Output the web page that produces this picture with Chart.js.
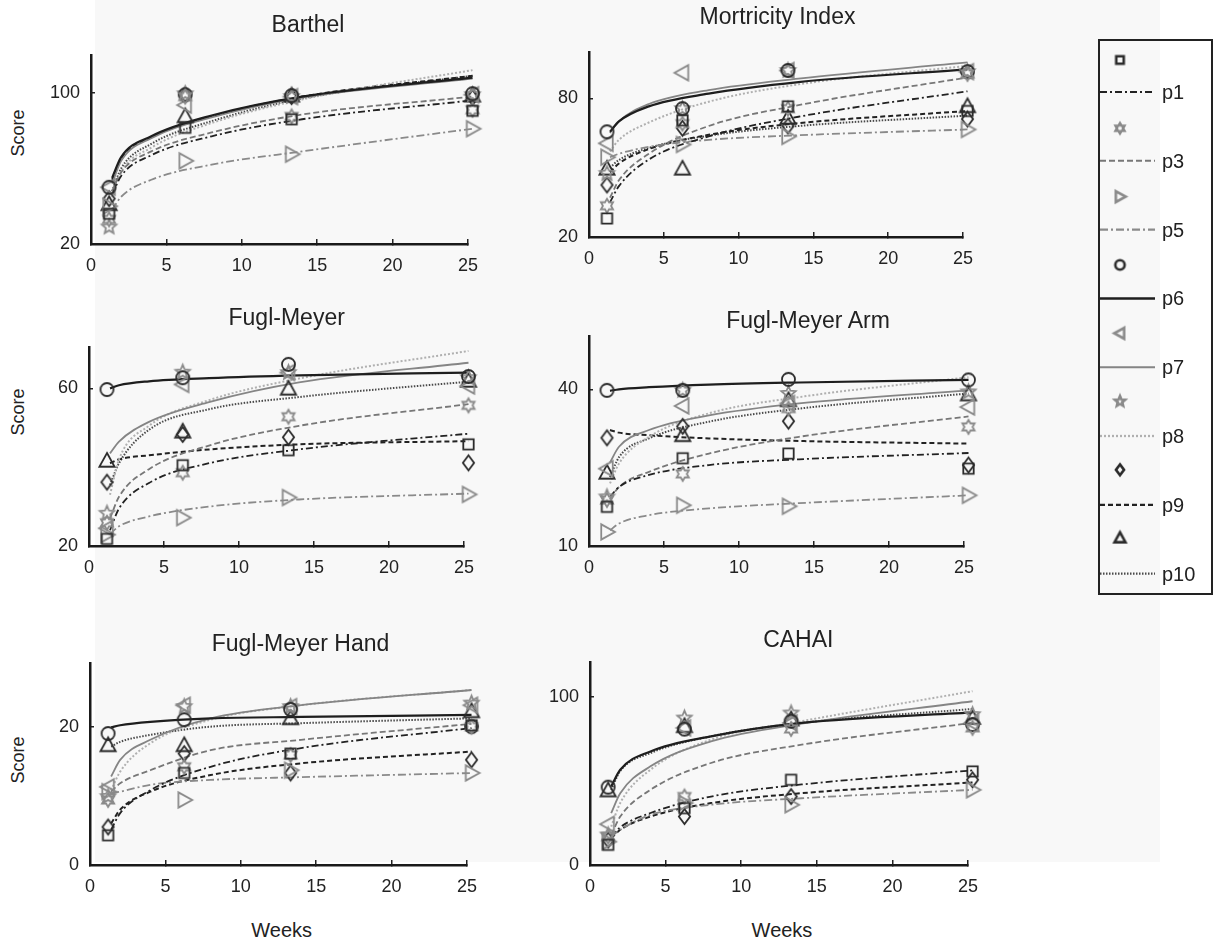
<!DOCTYPE html>
<html>
<head>
<meta charset="utf-8">
<script src="https://cdn.jsdelivr.net/npm/chart.js@4.4.1/dist/chart.umd.min.js"></script>
<style>
  html, body { margin: 0; padding: 0; background: #fff; }
  body { width: 1213px; height: 943px; position: relative; overflow: hidden;
         font-family: 'Liberation Sans', Arial, sans-serif; color: #222; }
  #shade { position: absolute; left: 95px; top: 0; width: 1065px; height: 862px; background: #f8f8f8; }
  canvas.panel { position: absolute; }
  .title { position: absolute; width: 400px; text-align: center; font-size: 23px; line-height: 23px; white-space: nowrap; }
  .weeks { position: absolute; width: 200px; text-align: center; font-size: 20px; line-height: 20px; }
  .score { position: absolute; width: 100px; height: 20px; text-align: center; font-size: 18px; line-height: 20px; transform: rotate(-90deg); }
  #legend { position: absolute; left: 1098px; top: 39px; width: 115px; height: 556px; border: 2px solid #222; box-sizing: border-box; }
  .lab { position: absolute; font-size: 20px; line-height: 20px; }
</style>
</head>
<body>
<div id="shade"></div>
<div id="legend"></div>
<script>
// ---- data ----
const patients = ['p1', 'p3', 'p5', 'p6', 'p7', 'p8', 'p9', 'p10'];
const markerWeeks = [1.2, 6.25, 13.3, 25.3];
const curveWeeks = [1.4, 2, 4, 8, 14, 25.3];
const xTicks = [0, 5, 10, 15, 20, 25];
const panelTitles = ['Barthel', 'Mortricity Index', 'Fugl-Meyer', 'Fugl-Meyer Arm', 'Fugl-Meyer Hand', 'CAHAI'];
const yTickLabels = [[20, 100], [20, 80], [20, 60], [10, 40], [0, 20], [0, 100]];
const yRanges = [[20, 120], [20, 100], [20, 70.5], [10, 50.2], [0, 29.2], [0, 121]];

// markers per patient (p1, p3, p5, p6, p7, p8, p9, p10) at markerWeeks
const barthelMarks = [
  [36, 81.5, 86, 90.5], [33, 98, 87.5, 91], [40, 64, 67.5, 81], [50, 99, 98.5, 99.5],
  [50, 93.5, 98, 99], [29, 99.5, 98, 99], [44, 99, 98, 97.5], [41, 87.5, 98.5, 98.5]
];
const barthelFits = [
  [46, 56, 67, 77, 86, 96], [48, 58, 69, 79, 88.5, 98], [38, 45, 54, 62, 69, 81], [55, 66, 77, 88, 98, 108],
  [52, 64, 76, 87, 97.5, 107.5], [45, 58, 71, 84, 96.5, 112], [54, 65, 76.5, 87.5, 98, 109], [48, 60, 73, 85, 97, 109]
];
const motricityMarks = [
  [28, 70.5, 76.5, 74.5], [33.5, 69, 75.5, 90.5], [54.5, 60, 63.5, 66.5], [65.5, 75.5, 92, 91.5],
  [60.5, 91, 92, 91.5], [47.5, 75.5, 92, 91.5], [42.5, 67, 68, 71], [49.5, 49.5, 71.5, 76.5]
];
const motricityFits = [
  [35, 42, 53.5, 63.5, 72, 83], [37, 44.5, 56, 68, 77, 89], [54.5, 56, 59, 62, 64, 66.5], [65.5, 70, 76.5, 82, 87, 92.5],
  [65, 70, 77.5, 83.5, 88.5, 95.5], [57, 62, 69.5, 78.5, 86, 94], [48, 51.8, 58, 64.2, 69.2, 74.5], [50, 53.3, 58.5, 63.8, 68, 72.5]
];
const fuglMarks = [
  [21.8, 40.5, 44.3, 45.8], [25.9, 38.6, 52.8, 55.7], [22.9, 27.2, 32.3, 33.1], [59.7, 62.7, 66.1, 63],
  [24.5, 61, 64, 60.6], [28.3, 64.1, 64, 62.7], [36.2, 48.3, 47.6, 41.1], [41.6, 49, 59.9, 61.9]
];
const fuglFits = [
  [24, 29.5, 36, 41, 44.5, 48.5], [27, 32.5, 39.5, 45.5, 50.5, 56], [23, 25, 27.5, 30, 31.8, 33.3], [60, 60.8, 61.8, 62.6, 63.3, 64],
  [43.5, 46.5, 51.5, 56.5, 61.5, 66.5], [33, 42, 50.5, 57, 62.5, 69.5], [41, 42, 43, 44.5, 45.8, 46.6], [35.5, 41, 49.5, 54.7, 57.8, 61.7]
];
const armMarks = [
  [17.5, 26.8, 27.7, 24.8], [18.8, 23.8, 36.3, 32.8], [12.7, 17.8, 17.6, 19.7], [39.8, 39.8, 41.9, 41.8],
  [24.8, 36.8, 37.3, 36.6], [19.4, 39.8, 39.2, 39.5], [30.7, 32.9, 33.9, 25.5], [24, 31.2, 37.9, 39]
];
const armFits = [
  [19.4, 21.3, 23.6, 25.5, 26.6, 27.8], [19, 21.3, 24.2, 27.7, 30.9, 34.8], [13, 14.3, 15.9, 17.2, 18.2, 19.7], [39.7, 40, 40.4, 40.9, 41.3, 41.8],
  [26, 29, 32.2, 35, 37.3, 39.8], [22, 25.8, 30.9, 35.4, 38.5, 42.3], [32.2, 31.7, 31.2, 30.6, 30.1, 29.6], [23.2, 27, 30.6, 33.8, 36.3, 39.2]
];
const handMarks = [
  [4.3, 13.3, 16.1, 20.2], [9.4, 14.2, 15.9, 20], [10.6, 9.4, 13.7, 13.3], [19, 21, 22.5, 20],
  [11.3, 23.1, 22.9, 23.1], [9.9, 22.9, 22.9, 23.4], [5.5, 16.1, 13.3, 15.2], [17.3, 17.3, 21.2, 22.2]
];
const handFits = [
  [5.1, 7.5, 10.8, 14.2, 16.9, 19.8], [10.6, 11.8, 13.7, 16.6, 18.1, 20.4], [10.4, 10.6, 11.6, 12.3, 12.7, 13.3], [19.9, 20.2, 20.7, 21.2, 21.4, 21.7],
  [12.8, 15.2, 18.1, 21.2, 23.1, 25.3], [10.8, 13.5, 17.6, 21, 23.1, 25.3], [6, 8, 10.6, 13, 14.7, 16.4], [17.1, 17.8, 18.8, 20, 20.5, 21.2]
];
const cahaiMarks = [
  [12, 33.9, 50.8, 55.8], [16.9, 40.8, 81.1, 81.7], [13.9, 36.9, 35.9, 44.8], [46.4, 81, 85.7, 83.7],
  [24.3, 81.7, 84.7, 84.7], [17.9, 87.6, 90.6, 89.6], [14.9, 28.9, 40.8, 50.8], [44.4, 82.7, 86.7, 87.6]
];
const cahaiFits = [
  [16.9, 22.5, 31, 40.8, 48, 56.4], [17.9, 28.9, 44.8, 60.8, 71.7, 84.7], [16.9, 21, 29.9, 35.9, 39.8, 44.8], [46.8, 56.8, 67.7, 76.7, 84.7, 91],
  [30.9, 42.8, 58.8, 73.7, 84.3, 97.6], [22.9, 37, 56.8, 74.7, 85.7, 103.6], [15.9, 21, 28.9, 36.9, 42.8, 49.2], [44.8, 56, 66.7, 76.7, 84.7, 93]
];

const panelMarks = [barthelMarks, motricityMarks, fuglMarks, armMarks, handMarks, cahaiMarks];
const panelFits = [barthelFits, motricityFits, fuglFits, armFits, handFits, cahaiFits];

// ---- layout & style ----
const FONT = "'Liberation Sans', Arial, sans-serif";
const AX_W = 60, AX_H = 34, PAD_T = 32, PAD_R = 32;
// plot area [left, right, top, bottom] in page pixels
const panelBoxes = [
  [91, 467.7, 55, 244.3], [589.3, 963.3, 51.7, 236.7],
  [89.3, 464.3, 347.3, 546.7], [589.3, 964.3, 335.7, 546],
  [90, 466.7, 663.3, 865], [589.5, 967.7, 662.3, 865]
];
const titlePos = [[308, 32.3], [777.5, 24], [286.7, 325], [808, 328.3], [300.5, 651.7], [798.3, 647.3]];
const scorePos = [133, 412, 760];
const weeksPos = [281.7, 782];

const markerKinds = ['square', 'hexagram', 'triRight', 'circle', 'triLeft', 'pentagram', 'diamond', 'triUp'];
const markerColors = ['#2b2b2b', '#8a8a8a', '#8a8a8a', '#2b2b2b', '#8a8a8a', '#8a8a8a', '#2b2b2b', '#2b2b2b'];
const markerSizes = [6.5, 7, 8, 6.5, 8, 7.5, 7.5, 8];
const lineColors = ['#222', '#777', '#8a8a8a', '#1e1e1e', '#858585', '#b0b0b0', '#222', '#4a4a4a'];
const lineDashes = [[7, 3, 2, 3], [6, 3], [8, 3, 2, 3], [], [], [2, 2], [5, 3], [1.5, 1.5]];
const lineWidths = [1.8, 1.8, 1.8, 2.2, 1.8, 2, 2, 2];

function makeMarker(kind, color, r, lw) {
  const s = Math.ceil(2 * r + 2 * lw + 4);
  const c = document.createElement('canvas');
  c.width = c.height = s;
  const g = c.getContext('2d');
  const m = s / 2;
  g.strokeStyle = color;
  g.lineWidth = lw;
  g.lineJoin = 'miter';
  const poly = pts => {
    g.moveTo(m + pts[0][0] * r, m + pts[0][1] * r);
    pts.slice(1).forEach(p => g.lineTo(m + p[0] * r, m + p[1] * r));
    g.closePath();
  };
  const star = (n, inner) => {
    const pts = [];
    for (let i = 0; i < 2 * n; i++) {
      const a = -Math.PI / 2 + i * Math.PI / n;
      const rr = i % 2 ? inner : 1;
      pts.push([Math.cos(a) * rr, Math.sin(a) * rr]);
    }
    poly(pts);
  };
  g.beginPath();
  if (kind === 'square') g.rect(m - 0.8 * r, m - 0.8 * r, 1.6 * r, 1.6 * r);
  else if (kind === 'circle') g.arc(m, m, r, 0, Math.PI * 2);
  else if (kind === 'diamond') poly([[0, -1], [0.75, 0], [0, 1], [-0.75, 0]]);
  else if (kind === 'triUp') poly([[0, -1], [0.95, 0.72], [-0.95, 0.72]]);
  else if (kind === 'triRight') poly([[-0.72, -0.95], [1, 0], [-0.72, 0.95]]);
  else if (kind === 'triLeft') poly([[0.72, -0.95], [-1, 0], [0.72, 0.95]]);
  else if (kind === 'hexagram') star(6, 0.58);
  else if (kind === 'pentagram') star(5, 0.45);
  g.stroke();
  return c;
}

const chartMarkers = markerKinds.map((k, i) => makeMarker(k, markerColors[i], markerSizes[i], 1.8));

function addText(cls, text, left, top) {
  const d = document.createElement('div');
  d.className = cls;
  d.textContent = text;
  d.style.left = left + 'px';
  d.style.top = top + 'px';
  document.body.appendChild(d);
  return d;
}

panelTitles.forEach((title, k) => {
  const [L, R, T, B] = panelBoxes[k];
  const w = Math.round(R - L + AX_W + PAD_R);
  const h = Math.round(B - T + PAD_T + AX_H);
  const cv = document.createElement('canvas');
  cv.className = 'panel';
  cv.width = w;
  cv.height = h;
  cv.style.left = (L - AX_W) + 'px';
  cv.style.top = (T - PAD_T) + 'px';
  cv.style.width = w + 'px';
  cv.style.height = h + 'px';
  document.body.appendChild(cv);

  const datasets = [];
  patients.forEach((p, i) => {
    datasets.push({
      label: p + ' fit',
      data: curveWeeks.map((wk, j) => ({ x: wk, y: panelFits[k][i][j] })),
      showLine: true,
      pointRadius: 0,
      borderColor: lineColors[i],
      borderWidth: lineWidths[i],
      borderDash: lineDashes[i],
      cubicInterpolationMode: 'monotone',
      fill: false,
      clip: false,
      order: 1
    });
    datasets.push({
      label: p,
      data: markerWeeks.map((wk, j) => ({ x: wk, y: panelMarks[k][i][j] })),
      showLine: false,
      pointStyle: chartMarkers[i],
      pointRadius: 7,
      clip: false,
      order: 0
    });
  });

  const yt = yTickLabels[k];
  new Chart(cv, {
    type: 'scatter',
    data: { datasets },
    options: {
      responsive: false,
      animation: false,
      layout: { padding: { top: PAD_T, right: PAD_R, left: 0, bottom: 0 } },
      plugins: { legend: { display: false }, tooltip: { enabled: false }, title: { display: false } },
      scales: {
        x: {
          type: 'linear', min: xTicks[0], max: xTicks[xTicks.length - 1],
          afterBuildTicks: s => { s.ticks = xTicks.map(v => ({ value: v })); },
          afterFit: s => { s.height = AX_H; },
          ticks: { color: '#222', font: { family: FONT, size: 18 }, padding: 16, maxRotation: 0, autoSkip: false },
          grid: { drawOnChartArea: false, tickLength: -5, color: '#222', lineWidth: 1.5 },
          border: { color: '#1a1a1a', width: 2.5 }
        },
        y: {
          type: 'linear', min: yRanges[k][0], max: yRanges[k][1],
          afterBuildTicks: s => { s.ticks = yt.map(v => ({ value: v })); },
          afterFit: s => { s.width = AX_W; },
          ticks: { color: '#222', font: { family: FONT, size: 18 }, padding: 15 },
          grid: { drawOnChartArea: false, tickLength: -4, color: '#222', lineWidth: 1.5 },
          border: { color: '#1a1a1a', width: 2.5 }
        }
      }
    }
  });

  const [cx, base] = titlePos[k];
  addText('title', title, cx - 200, base - 19.5);
});

scorePos.forEach(yc => addText('score', 'Score', 17.5 - 50, yc - 10));
weeksPos.forEach(xc => addText('weeks', 'Weeks', xc - 100, 937.3 - 17));

// ---- legend ----
const legend = document.getElementById('legend');
const lg = document.createElement('canvas');
lg.width = 111; lg.height = 552;
lg.style.position = 'absolute';
lg.style.left = '0px'; lg.style.top = '0px';
legend.appendChild(lg);
const g = lg.getContext('2d');
const LX = 1100, LY = 41;
patients.forEach((p, i) => {
  const my = 60 + 68.3 * i - LY;
  const ly = 92 + 68.8 * i - LY;
  const mk = makeMarker(markerKinds[i], markerColors[i], markerSizes[i] * 0.72, 2.6);
  g.drawImage(mk, 1120 - LX - mk.width / 2, my - mk.height / 2);
  g.beginPath();
  g.setLineDash(lineDashes[i]);
  g.strokeStyle = lineColors[i];
  g.lineWidth = lineWidths[i] + 0.3;
  g.moveTo(0, ly);
  g.lineTo(1155 - LX, ly);
  g.stroke();
  const d = document.createElement('div');
  d.className = 'lab';
  d.textContent = p;
  d.style.left = (1162 - LX) + 'px';
  d.style.top = (ly - 10) + 'px';
  legend.appendChild(d);
});
</script>
</body>
</html>
